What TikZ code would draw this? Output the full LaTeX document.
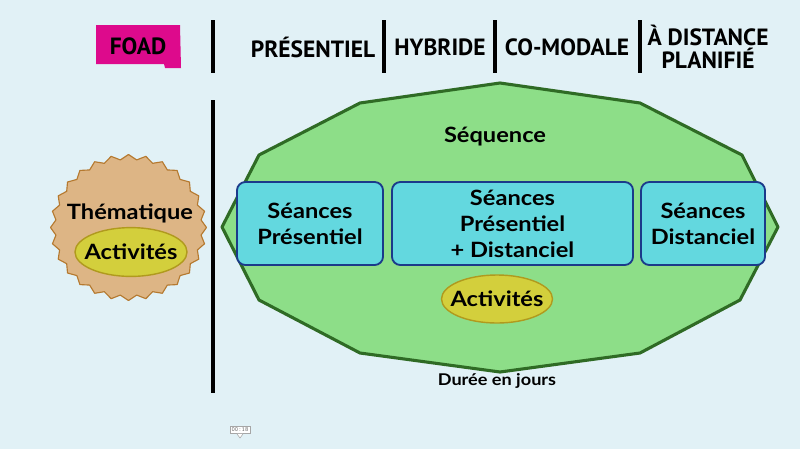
\documentclass[tikz,border=0pt]{standalone}
\usepackage{fontspec}
\setmainfont{Lato}[FakeStretch=1.12]
\newfontfamily\barfamily{PT Sans}
\usetikzlibrary{shapes.geometric,calc}

\definecolor{bgblue}{HTML}{E1F1F6}
\definecolor{seqfill}{HTML}{8DDE88}
\definecolor{seqline}{HTML}{2F6B25}
\definecolor{seancefill}{HTML}{63D8DF}
\definecolor{seanceline}{HTML}{1B3A8A}
\definecolor{actfill}{HTML}{D3CF3C}
\definecolor{actline}{HTML}{B09A1E}
\definecolor{starfill}{HTML}{DDB585}
\definecolor{starline}{HTML}{B5792F}
\definecolor{foadpink}{HTML}{DD0A8C}

\newcommand\seqfont{\bfseries\fontsize{15}{18.5}\selectfont}
\newcommand\barfont{\barfamily\bfseries\fontsize{16.7}{16.5}\selectfont}
\def\drawbar{\draw[color=black, line width=2.2pt]}
\def\drawseq{\draw[color=seqline, fill=seqfill, line width=2.2pt, line join=round]}
\def\seancenode{\node[rectangle,rounded corners=6pt,draw=seanceline,fill=seancefill,line width=1.3pt,align=center,font=\seqfont]}
\def\actnode{\node[ellipse,draw=actline,fill=actfill,line width=1pt]}

\begin{document}
\begin{tikzpicture}[x=0.025cm,y=-0.025cm,inner sep=0pt]
\fill[bgblue] (0,0) rectangle (800,449);
\useasboundingbox (0,0) rectangle (800,449);

% ---------- top bar of the modalities
\fill[foadpink] (96,25) -- (180,25) -- (181,68) -- (165,68) -- (164,64) -- (96,64) -- cycle;
\node[font=\barfont] (foad) at (138,46) {FOAD};
\drawbar (213,20) -- (213,73);
\node[font=\barfont] (pres) at (313,47) {PRÉSENTIEL};
\drawbar (384,20) -- (384,73);
\node[font=\barfont] (hyb) at (440,47) {HYBRIDE};
\drawbar (495,20) -- (495,73);
\node[font=\barfont] (como) at (567,47) {CO-MODALE};
\drawbar (640,20) -- (640,73);
\node[font=\barfont,align=center] (dist) at (708,46.5) {À DISTANCE\\PLANIFIÉ};

% ---------- the long separator
\drawbar (213,100) -- (213,393);

% ---------- the theme on the left (a serrated disc)
\coordinate (thema) at (128.5,227.5);
\draw[draw=starline,fill=starfill,line width=0.8pt,line join=round]
  ($ (thema) + (0,-73) $) \foreach \k in {1,...,55} {
    -- ($ (thema) + ({cos(90+\k*6.428571)*ifthenelse(isodd(\k),73,78)},{-sin(90+\k*6.428571)*ifthenelse(isodd(\k),68,73)}) $) } -- cycle;
\node[font=\seqfont] (thematxt) at (130,213) {Thématique};
\actnode[minimum width=2.8cm,minimum height=1.22cm] (thema_act) at (131,252) {};
\node[font=\seqfont] at (thema_act) {Activités};

% ---------- the sequence polygon
\drawseq (500,83) -- (640,103) -- (742,155) -- (778,227) -- (740,300) -- (640,353)
  -- (500,372) -- (360,353) -- (259,300) -- (222,227) -- (259,155) -- (360,103) -- cycle;
\node[font=\seqfont] (seq) at (495,137) {Séquence};

% seances
\seancenode[minimum width=3.65cm,minimum height=2.075cm] (s_pres) at (310,223.5) {Séances\\Présentiel};
\seancenode[minimum width=6.025cm,minimum height=2.075cm] (s_mix) at (512.5,223.5) {Séances\\Présentiel\\+ Distanciel};
\seancenode[minimum width=3.1cm,minimum height=2.075cm] (s_dist) at (703,223.5) {Séances\\Distanciel};

\actnode[minimum width=2.775cm,minimum height=1.2cm] (seq_act) at (497,299) {};
\node[font=\seqfont] at (seq_act) {Activités};
\node[font=\bfseries\fontsize{11.5}{13}\selectfont] (duree) at (497,381) {Durée en jours};

% ---------- the small time stamp
\node[draw=gray!70,fill=white,line width=0.4pt,inner sep=1.2pt,font=\ttfamily\fontsize{4.5}{5}\selectfont,text=gray!80!black] (stamp) at (240,430) {00:18};
\draw[gray!70,fill=white,line width=0.4pt] ($ (stamp.south) + (-3,0) $) -- ($ (stamp.south) + (0,4) $) -- ($ (stamp.south) + (3,0) $);
\end{tikzpicture}
\end{document}
